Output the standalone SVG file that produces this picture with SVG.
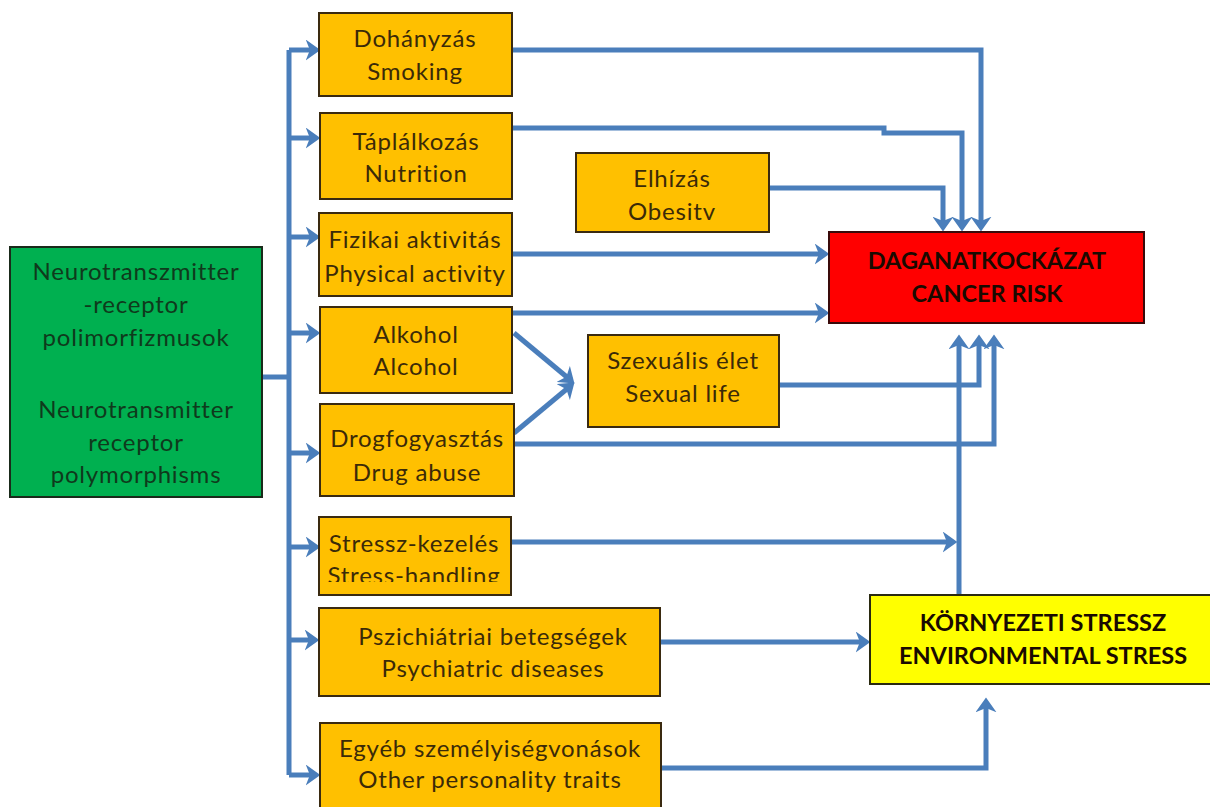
<svg xmlns="http://www.w3.org/2000/svg" width="1210" height="807" viewBox="0 0 1210 807">
<style>
.box{fill:#FFC000;stroke:#3a2a10;stroke-width:2}
.t{font-family:Lato,"Liberation Sans",sans-serif;font-size:24px;letter-spacing:0.8px;font-variant-ligatures:none;fill:#3b2a08;text-anchor:middle}
.g{fill:#00B050;stroke:#1a2a1a;stroke-width:2}
.gt{font-family:Lato,"Liberation Sans",sans-serif;font-size:24px;letter-spacing:0.8px;font-variant-ligatures:none;fill:#0f3a1c;text-anchor:middle}
.b{font-family:Lato,"Liberation Sans",sans-serif;font-size:23.5px;font-weight:bold;fill:#1a0a00;text-anchor:middle}
.c{fill:none;stroke:#4A7EBB;stroke-width:5;stroke-linejoin:miter}
.a{marker-end:url(#ah)}
</style>
<defs>
<marker id="ah" viewBox="0 0 14 20" markerWidth="15" markerHeight="21" refX="6" refY="10" orient="auto" markerUnits="userSpaceOnUse">
<path d="M0,0 L14,10 L0,20 L4,10 z" fill="#4A7EBB"/>
</marker>
<clipPath id="clipS"><rect x="319" y="517" width="192" height="65"/></clipPath>
</defs>
<rect width="1210" height="807" fill="#ffffff"/>

<g id="connectors">
<path class="c" d="M262,377 H289"/>
<path class="c" d="M289,50 V775"/>
<path class="c a" d="M289,50 H312"/>
<path class="c a" d="M289,138 H312"/>
<path class="c a" d="M289,237 H312"/>
<path class="c a" d="M289,333 H312"/>
<path class="c a" d="M289,453 H312"/>
<path class="c a" d="M289,547 H312"/>
<path class="c a" d="M289,640 H311"/>
<path class="c a" d="M289,775 H312"/>
<path class="c a" d="M512,50 H981 V223"/>
<path class="c a" d="M512,128 H884 V133 H962 V223"/>
<path class="c a" d="M769,188 H943 V223"/>
<path class="c a" d="M512,254 H821"/>
<path class="c a" d="M512,313 H821"/>
<path class="c a" d="M514,333 L568,378"/>
<path class="c a" d="M514,433 L568,388"/>
<path class="c a" d="M770,385 H979 V343"/>
<path class="c a" d="M514,444 H994 V343"/>
<path class="c a" d="M959,595 V343"/>
<path class="c a" d="M510,542 H949"/>
<path class="c a" d="M660,642 H862"/>
<path class="c a" d="M661,768 H986 V706"/>
</g>

<g id="n-neuro">
<rect class="g" x="10" y="247" width="252" height="250"/>
<text class="gt" x="136" y="280">Neurotranszmitter</text>
<text class="gt" x="136" y="313">-receptor</text>
<text class="gt" x="136" y="346">polimorfizmusok</text>
<text class="gt" x="136" y="418">Neurotransmitter</text>
<text class="gt" x="136" y="451">receptor</text>
<text class="gt" x="136" y="483">polymorphisms</text>
</g>

<g id="n-smoking">
<rect class="box" x="319" y="13" width="193" height="83"/>
<text class="t" x="415" y="47">Dohányzás</text>
<text class="t" x="415" y="80">Smoking</text>
</g>

<g id="n-nutrition">
<rect class="box" x="320" y="113" width="192" height="86"/>
<text class="t" x="416" y="150">Táplálkozás</text>
<text class="t" x="416" y="182">Nutrition</text>
</g>

<g id="n-physical">
<rect class="box" x="319" y="213" width="193" height="83"/>
<text class="t" x="415" y="248">Fizikai aktivitás</text>
<text class="t" x="415" y="282">Physical activity</text>
</g>

<g id="n-alcohol">
<rect class="box" x="320" y="307" width="192" height="86"/>
<text class="t" x="416" y="343">Alkohol</text>
<text class="t" x="416" y="375">Alcohol</text>
</g>

<g id="n-drug">
<rect class="box" x="320" y="404" width="194" height="92"/>
<text class="t" x="417" y="447">Drogfogyasztás</text>
<text class="t" x="417" y="481">Drug abuse</text>
</g>

<g id="n-stress-handling">
<rect class="box" x="319" y="517" width="192" height="78"/>
<g clip-path="url(#clipS)">
<text class="t" x="414" y="552">Stressz-kezelés</text>
<text class="t" x="414" y="584">Stress-handling</text>
</g>
</g>

<g id="n-psych">
<rect class="box" x="319" y="608" width="341" height="88"/>
<text class="t" x="493" y="645">Pszichiátriai betegségek</text>
<text class="t" x="493" y="677">Psychiatric diseases</text>
</g>

<g id="n-other">
<rect class="box" x="320" y="723" width="341" height="90"/>
<text class="t" x="490" y="757">Egyéb személyiségvonások</text>
<text class="t" x="490" y="788">Other personality traits</text>
</g>

<g id="n-obesity">
<rect class="box" x="576" y="153" width="193" height="79"/>
<text class="t" x="672" y="187">Elhízás</text>
<text class="t" x="672" y="220">Obesitv</text>
</g>

<g id="n-sexual">
<rect class="box" x="588" y="335" width="191" height="92"/>
<text class="t" x="683" y="369">Szexuális élet</text>
<text class="t" x="683" y="402">Sexual life</text>
</g>

<g id="n-cancer">
<rect x="829" y="232" width="315" height="91" fill="#FF0000" stroke="#3a0a0a" stroke-width="2"/>
<text class="b" x="987" y="269">DAGANATKOCKÁZAT</text>
<text class="b" x="987" y="302">CANCER RISK</text>
</g>

<g id="n-env">
<rect x="870" y="595" width="345" height="89" fill="#FFFF00" stroke="#2a2a10" stroke-width="2"/>
<text class="b" x="1043" y="631">KÖRNYEZETI STRESSZ</text>
<text class="b" x="1043" y="664">ENVIRONMENTAL STRESS</text>
</g>
</svg>
